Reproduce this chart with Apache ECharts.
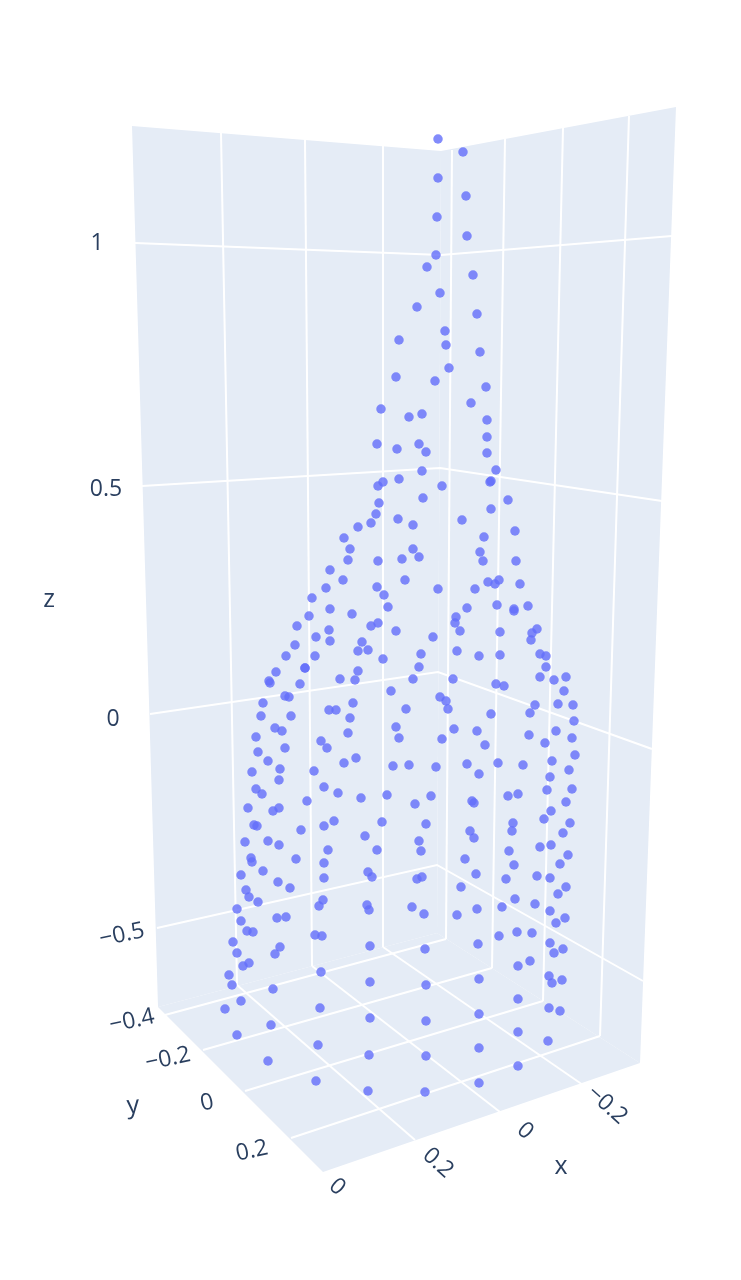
<!DOCTYPE html>
<html>
<head>
<meta charset="utf-8">
<style>html,body{margin:0;padding:0;background:#fff}#c{width:741px;height:1280px}</style>
<script src="https://cdn.jsdelivr.net/npm/echarts@6/dist/echarts.min.js"></script>
</head>
<body>
<div id="c"></div>
<script>
// All values are read in the picture plane of the projected 3D scene.
const planeX = [0, 741];
const planeY = [0, 1280];

const leftWall = [[132,126],[441,151],[437,933],[158,1007]];
const rightWall = [[441,151],[676,107],[640,1063],[437,933]];
const floor = [[158,1007],[437,933],[640,1063],[323,1172]];

const wallVerticals = [
  [[221,133],[237,985]],[[305,140],[312,966]],[[383,146],[383,947]],
  [[452,150],[446,939]],[[505,139],[492,968]],[[563,128],[543,1001]],[[629,116],[600,1036]]
];
const zLines = [
  [[135,243],[441,255],[672,236]],
  [[142,486],[440,468],[662,501]],
  [[150,714],[438,672],[652,749]],
  [[157,928],[437,865],[643,981]]
];
const floorXLines = [[[237,985],[415,1140]],[[312,966],[500,1112]],[[383,947],[583,1085]]];
const floorYLines = [[[165,1015],[446,939]],[[203,1050],[492,968]],[[245,1091],[543,1001]],[[291,1138],[600,1036]]];

const topPoints = [[438,139],[463,152],[438,178],[466,196],[437,217],[467,236],[436,255],[427,267],[473,275],[440,293],[417,307],[477,314],[445,331],[399,340],[446,345],[480,352],[449,368],[396,377],[435,381],[486,387],[471,403],[381,409],[409,417],[422,414],[487,420],[487,437],[377,444],[397,449],[419,444],[426,452],[487,453],[496,470],[491,481],[422,471],[399,479],[383,482],[378,486],[442,486],[423,498],[508,500],[379,503],[490,482]];
const upperLeftPoints = [[376,514],[371,523],[398,519],[358,527],[344,538],[350,549],[348,560],[378,561],[330,570],[343,580],[326,588],[377,587],[384,595],[312,598],[330,609],[388,607],[309,616],[352,614],[297,626],[378,623],[371,626],[329,630],[396,631],[316,637],[330,641],[362,642],[295,645],[358,651],[368,650],[286,656],[315,656],[383,659],[305,668],[305,668],[276,672],[358,671],[340,679],[355,680],[269,681]];
const upperRightPoints = [[491,509],[413,525],[462,520],[515,531],[484,537],[413,549],[402,559],[419,557],[480,552],[483,561],[516,561],[405,580],[438,589],[475,589],[488,582],[495,584],[499,580],[520,584],[467,608],[497,605],[514,609],[514,611],[528,606],[456,617],[455,623],[460,631],[500,632],[537,629],[532,633],[531,640],[433,637],[421,654],[457,651],[479,656],[500,655],[540,654],[546,656],[419,667],[546,667],[540,677],[566,677],[554,680],[413,679],[453,679]];
const middleLeftPoints = [[270,683],[300,684],[285,696],[289,697],[391,691],[263,703],[353,703],[261,716],[291,716],[329,710],[336,710],[406,709],[350,718],[275,728],[282,731],[396,727],[399,738],[256,737],[348,733],[321,741],[327,748],[285,748],[258,752],[268,761],[356,758],[344,763],[393,766],[409,765],[252,772],[280,769],[314,771],[279,780],[256,789],[262,794],[324,787],[338,793],[361,798],[387,795],[415,804],[307,801],[248,808],[273,811],[279,808],[254,825],[257,826],[334,821],[324,826],[301,830],[382,822],[365,836],[245,842],[268,841],[279,845],[328,850],[377,850],[419,841],[421,851],[251,858],[252,862],[296,859],[324,863],[263,871],[368,872]];
const middleRightPoints = [[496,684],[504,686],[564,691],[558,704],[573,705],[535,705],[530,713],[440,697],[446,701],[448,709],[491,714],[574,721],[454,729],[477,731],[556,731],[529,735],[572,738],[442,739],[545,743],[485,745],[575,755],[552,761],[498,763],[436,767],[467,764],[523,765],[569,770],[479,774],[550,777],[547,790],[572,789],[518,794],[508,796],[431,796],[472,801],[474,803],[566,802],[551,811],[544,819],[570,823],[513,823],[512,831],[426,824],[470,831],[474,838],[563,833],[509,851],[551,845],[540,847],[568,855],[465,859],[560,864],[514,865]];
const lowerLeftPoints = [[241,875],[278,882],[290,888],[324,878],[372,877],[246,890],[249,897],[258,902],[323,900],[319,906],[367,905],[369,910],[237,909],[241,921],[277,918],[286,917],[247,931],[253,932],[315,935],[322,936],[233,942],[237,953],[280,947],[275,954],[370,946],[249,963],[243,966],[229,975],[232,985],[321,972],[370,982],[273,989],[241,1001],[225,1009],[320,1008],[370,1018],[271,1025],[237,1035],[318,1045],[369,1055],[268,1061],[316,1081],[368,1091]];
const lowerRightPoints = [[417,879],[422,877],[476,874],[461,887],[506,879],[537,876],[550,878],[566,887],[558,894],[412,907],[424,914],[457,915],[477,909],[502,907],[515,899],[535,904],[550,911],[565,918],[556,923],[499,936],[517,932],[532,933],[550,943],[563,949],[554,953],[425,949],[478,944],[530,961],[518,966],[549,976],[562,980],[552,983],[479,979],[426,985],[518,999],[549,1008],[560,1011],[479,1014],[426,1021],[518,1032],[548,1041],[479,1048],[426,1056],[518,1066],[479,1083],[425,1092]];

const points = [].concat(topPoints, upperLeftPoints, upperRightPoints, middleLeftPoints, middleRightPoints, lowerLeftPoints, lowerRightPoints);

const zTickLabels = ['1','0.5','0','\u22120.5'];
const zTickAnchors = [[97,243],[106,489],[113,719],[122,935]];
const zTickTurn = [0,0,0,12];
const yTickLabels = ['\u22120.4','\u22120.2','0','0.2'];
const yTickAnchors = [[132,1021],[168,1059],[207,1103],[252,1151]];
const xTickLabels = ['0','0.2','0','\u22120.2'];
const xTickAnchors = [[337,1187],[438,1163],[525,1131],[607,1105]];
const axisTitles = ['z','y','x'];
const axisTitleAnchors = [[49,600],[133,1106],[561,1167]];

const WALL = '#E5ECF6', INK = '#2a3f5f', FONT = '"Open Sans", sans-serif';

function shapeSeries(list, z, build) {
  return {
    type: 'custom', coordinateSystem: 'cartesian2d', silent: true, z: z, clip: false,
    data: list.map((_, i) => [i]),
    encode: { x: -1, y: -1 },
    renderItem: (params, api) => build(list[params.dataIndex], api, params.dataIndex)
  };
}
const polygonOf = (pts, api) => ({ type: 'polygon', shape: { points: pts.map(p => api.coord(p)) }, style: { fill: WALL } });
const lineOf = (pts, api) => ({ type: 'polyline', shape: { points: pts.map(p => api.coord(p)) }, style: { stroke: '#fff', lineWidth: 2, fill: null } });
function textOf(label, anchor, turn, size, api) {
  const c = api.coord(anchor);
  return { type: 'text', x: c[0], y: c[1], rotation: turn * Math.PI / 180,
    style: { text: label, x: 0, y: 0, align: 'center', verticalAlign: 'middle', fill: INK, font: size + 'px ' + FONT } };
}
function labelSeries(labels, anchors, turns, size) {
  return shapeSeries(labels, 5, (label, api, i) => textOf(label, anchors[i], turns[i], size, api));
}

const chart = echarts.init(document.getElementById('c'), null, { renderer: 'canvas' });
chart.setOption({
  animation: false,
  backgroundColor: '#fff',
  grid: { left: 0, right: 0, top: 0, bottom: 0 },
  xAxis: { type: 'value', min: planeX[0], max: planeX[1], show: false },
  yAxis: { type: 'value', min: planeY[0], max: planeY[1], inverse: true, show: false },
  series: [
    shapeSeries([leftWall, rightWall, floor], 1, polygonOf),
    shapeSeries([].concat(wallVerticals, zLines, floorXLines, floorYLines), 2, lineOf),
    { type: 'scatter', data: points, symbol: 'circle', symbolSize: 9.5, z: 3, silent: true,
      itemStyle: { color: '#636efa', opacity: 0.8 } },
    labelSeries(zTickLabels, zTickAnchors, zTickTurn, 23),
    labelSeries(yTickLabels, yTickAnchors, [12,12,12,12], 23),
    labelSeries(xTickLabels, xTickAnchors, [-42,-42,-42,-42], 23),
    labelSeries(axisTitles, axisTitleAnchors, [0,4,0], 25)
  ]
});
</script>
</body>
</html>
